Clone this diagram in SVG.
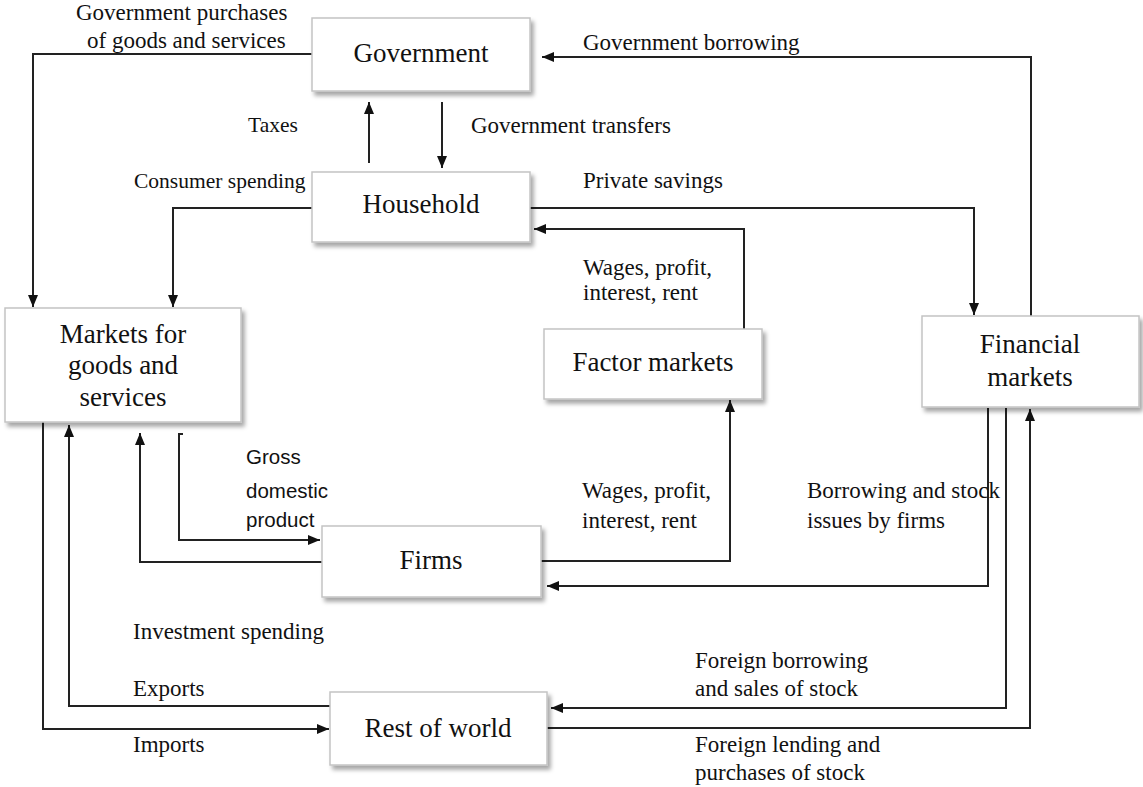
<svg xmlns="http://www.w3.org/2000/svg" width="1143" height="787" viewBox="0 0 1143 787">
<style>
.box{fill:#fff;stroke:#c4c4c4;stroke-width:1.5;filter:url(#sh)}
.nt{font-family:"Liberation Serif","Times New Roman",serif;font-size:27px;fill:#111;text-anchor:middle}
.lb{font-family:"Liberation Serif","Times New Roman",serif;font-size:23px;fill:#111}
.sm{font-size:21.5px}
.sans{font-family:"Liberation Sans",Arial,sans-serif;font-size:20.5px;fill:#111}
.c{fill:none;stroke:#222;stroke-width:2;marker-end:url(#ah)}
.cn{fill:none;stroke:#222;stroke-width:2}
</style>
<defs>
<filter id="sh" x="-10%" y="-10%" width="130%" height="140%">
<feDropShadow dx="3" dy="4" stdDeviation="2" flood-color="#000" flood-opacity="0.35"/>
</filter>
<marker id="ah" markerUnits="userSpaceOnUse" markerWidth="13" markerHeight="11" refX="12" refY="5" orient="auto">
<path d="M0,0 L12,5 L0,10 z" fill="#111"/>
</marker>
</defs>
<rect width="1143" height="787" fill="#fff"/>
<g id="connectors">
<path class="c" d="M312,54 H33 V307"/>
<path class="c" d="M369,163 V102"/>
<path class="c" d="M442,102 V168"/>
<path class="c" d="M312,208 H173 V307"/>
<path class="c" d="M530,208 H974 V315"/>
<path class="c" d="M1031,316 V57 H542"/>
<path class="c" d="M744,329 V229 H534"/>
<path class="c" d="M541,561 H730 V400"/>
<path class="c" d="M988,408 V586 H547"/>
<path class="c" d="M1006,408 V708 H551"/>
<path class="c" d="M547,728 H1030 V409"/>
<path class="c" d="M183,434 H179 V540 H320"/>
<path class="c" d="M322,562 H140 V433"/>
<path class="c" d="M330,706 H69 V425"/>
<path class="c" d="M43,422 V729 H329"/>
</g>
<g id="government"><rect class="box" x="312" y="18" width="218" height="73"/><text class="nt" x="421" y="62">Government</text></g>
<g id="household"><rect class="box" x="312" y="172" width="218" height="70"/><text class="nt" x="421" y="213">Household</text></g>
<g id="markets-goods"><rect class="box" x="5" y="308" width="236" height="114"/><text class="nt" x="123" y="343">Markets for</text><text class="nt" x="123" y="374">goods and</text><text class="nt" x="123" y="406">services</text></g>
<g id="factor-markets"><rect class="box" x="544" y="329" width="218" height="70"/><text class="nt" x="653" y="371">Factor markets</text></g>
<g id="financial-markets"><rect class="box" x="922" y="316" width="217" height="91"/><text class="nt" x="1030" y="353">Financial</text><text class="nt" x="1030" y="386">markets</text></g>
<g id="firms"><rect class="box" x="322" y="526" width="219" height="71"/><text class="nt" x="431" y="569">Firms</text></g>
<g id="rest-of-world"><rect class="box" x="330" y="692" width="217" height="73"/><text class="nt" x="438" y="737">Rest of world</text></g>
<g id="labels">
<text class="lb" x="76" y="20">Government purchases</text>
<text class="lb" x="87" y="48">of goods and services</text>
<text class="lb sm" x="248" y="132">Taxes</text>
<text class="lb" x="471" y="133">Government transfers</text>
<text class="lb" x="583" y="50">Government borrowing</text>
<text class="lb sm" x="134" y="188">Consumer spending</text>
<text class="lb" x="583" y="188">Private savings</text>
<text class="lb" x="583" y="275">Wages, profit,</text>
<text class="lb" x="583" y="300">interest, rent</text>
<text class="sans" x="246" y="464">Gross</text>
<text class="sans" x="246" y="498">domestic</text>
<text class="sans" x="246" y="527">product</text>
<text class="lb" x="582" y="498">Wages, profit,</text>
<text class="lb" x="582" y="528">interest, rent</text>
<text class="lb" x="807" y="498">Borrowing and stock</text>
<text class="lb" x="807" y="528">issues by firms</text>
<text class="lb" x="133" y="639">Investment spending</text>
<text class="lb" x="133" y="696">Exports</text>
<text class="lb" x="133" y="752">Imports</text>
<text class="lb" x="695" y="668">Foreign borrowing</text>
<text class="lb" x="695" y="696">and sales of stock</text>
<text class="lb" x="695" y="752">Foreign lending and</text>
<text class="lb" x="695" y="780">purchases of stock</text>
</g>
</svg>
